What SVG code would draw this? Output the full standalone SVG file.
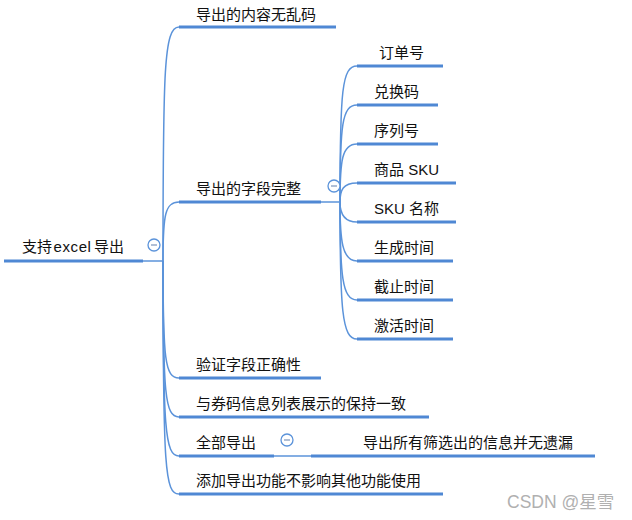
<svg xmlns="http://www.w3.org/2000/svg" width="632" height="520" viewBox="0 0 632 520">
<style>
.t{font-family:"Liberation Sans","Noto Sans CJK SC",sans-serif;font-size:15px;fill:#111}
.u{stroke:#4f88d4;stroke-width:3.2;fill:none}
.c{stroke:#5b93da;stroke-width:1.5;fill:none}
.btn circle{fill:#fff;stroke:#5b93da;stroke-width:1.3}
.btn line{stroke:#8fa4c4;stroke-width:1.4}
.wm{font-family:"Liberation Sans","Noto Sans CJK SC",sans-serif;font-size:17.5px;fill:#b0b0b0}
</style>
<rect width="632" height="520" fill="#fff"/>
<g id="connectors">
<path class="c" d="M143,261 L163,261"/>
<path class="c" d="M163,261 C163,70 164,27 179,27"/>
<path class="c" d="M163,261 C163,215 165,202 179,202"/>
<path class="c" d="M163,261 C163,360 165,378 179,378"/>
<path class="c" d="M163,261 C163,395 165,417 179,417"/>
<path class="c" d="M163,261 C163,430 165,456 179,456"/>
<path class="c" d="M163,261 C163,470 165,494 179,494"/>
<path class="c" d="M321,202 L340,202"/>
<path class="c" d="M340,202 C340,90 342,66 357,66"/>
<path class="c" d="M340,202 C340,125 342,105 357,105"/>
<path class="c" d="M340,202 C340,160 342,144 357,144"/>
<path class="c" d="M340,202 C340,190 343,183 357,183"/>
<path class="c" d="M340,202 C340,212 343,222 357,222"/>
<path class="c" d="M340,202 C340,240 342,261 357,261"/>
<path class="c" d="M340,202 C340,275 342,300 357,300"/>
<path class="c" d="M340,202 C340,310 342,339 357,339"/>
<path class="c" d="M274,456 L311,456"/>
</g>
<g id="root">
<path class="u" d="M4,261 L143,261"/>
<text class="t" x="22" y="252">支持<tspan dx="1.5" letter-spacing="0.6">excel</tspan><tspan dx="2.5">导出</tspan></text>
<g class="btn"><circle cx="154" cy="245" r="6"/><line x1="151" y1="245" x2="157" y2="245"/></g>
</g>
<g id="b1">
<path class="u" d="M179,27 L336,27"/>
<text class="t" x="196" y="19.5">导出的内容无乱码</text>
</g>
<g id="b2">
<path class="u" d="M179,202 L321,202"/>
<text class="t" x="196" y="194">导出的字段完整</text>
<g class="btn"><circle cx="334" cy="186" r="6"/><line x1="331" y1="186" x2="337" y2="186"/></g>
</g>
<g id="s1"><path class="u" d="M357,66 L443,66"/><text class="t" x="379" y="58">订单号</text></g>
<g id="s2"><path class="u" d="M357,105 L438,105"/><text class="t" x="374" y="97">兑换码</text></g>
<g id="s3"><path class="u" d="M357,144 L438,144"/><text class="t" x="374" y="136">序列号</text></g>
<g id="s4"><path class="u" d="M357,183 L456,183"/><text class="t" x="374" y="175">商品 SKU</text></g>
<g id="s5"><path class="u" d="M357,222 L456,222"/><text class="t" x="374" y="214">SKU 名称</text></g>
<g id="s6"><path class="u" d="M357,261 L453,261"/><text class="t" x="374" y="253">生成时间</text></g>
<g id="s7"><path class="u" d="M357,300 L453,300"/><text class="t" x="374" y="292">截止时间</text></g>
<g id="s8"><path class="u" d="M357,339 L453,339"/><text class="t" x="374" y="331">激活时间</text></g>
<g id="b3">
<path class="u" d="M179,378 L321,378"/>
<text class="t" x="196" y="370">验证字段正确性</text>
</g>
<g id="b4">
<path class="u" d="M179,417 L429,417"/>
<text class="t" x="196" y="409">与券码信息列表展示的保持一致</text>
</g>
<g id="b5">
<path class="u" d="M179,456 L274,456"/>
<text class="t" x="196" y="448">全部导出</text>
<g class="btn"><circle cx="287" cy="440" r="6"/><line x1="284" y1="440" x2="290" y2="440"/></g>
</g>
<g id="b5s">
<path class="u" d="M311,456 L595,456"/>
<text class="t" x="363" y="448">导出所有筛选出的信息并无遗漏</text>
</g>
<g id="b6">
<path class="u" d="M179,494 L443,494"/>
<text class="t" x="196" y="486">添加导出功能不影响其他功能使用</text>
</g>
<text class="wm" x="507" y="508">CSDN @星雪</text>
</svg>
